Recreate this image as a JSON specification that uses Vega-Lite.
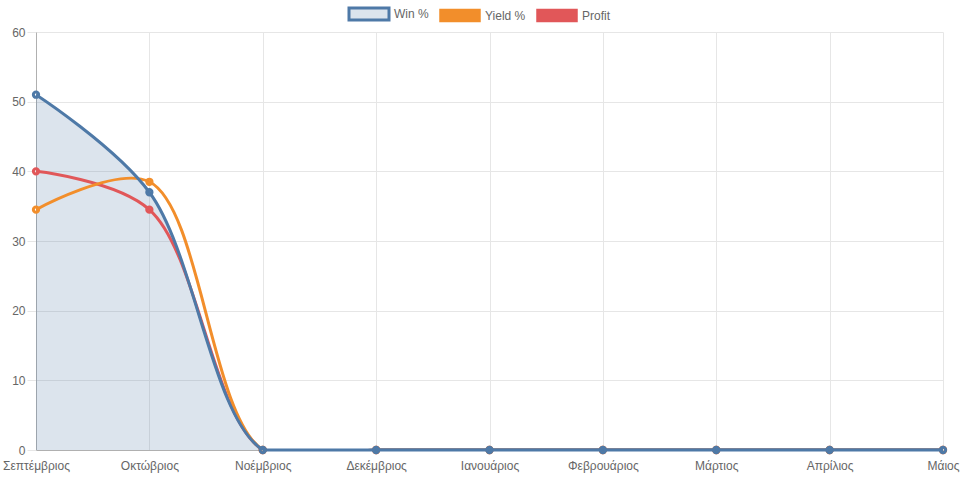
{
  "$schema": "https://vega.github.io/schema/vega-lite/v6.json",
  "width": 907,
  "height": 418,
  "autosize": {"type": "none"},
  "padding": {"left": 36, "top": 32, "right": 19, "bottom": 31},
  "background": "white",
  "config": {
    "view": {"stroke": null},
    "font": "Liberation Sans",
    "axis": {"labelFont": "Liberation Sans", "labelFontSize": 12, "labelColor": "#666666", "gridColor": "#e6e6e6", "gridWidth": 1, "tickColor": "#e6e6e6", "domainColor": "#b0b0b0", "title": null}
  },
  "data": {
    "values": [
      {"month": "Σεπτέμβριος", "series": "Win %", "value": 51},
      {"month": "Οκτώβριος", "series": "Win %", "value": 37},
      {"month": "Νοέμβριος", "series": "Win %", "value": 0},
      {"month": "Δεκέμβριος", "series": "Win %", "value": 0},
      {"month": "Ιανουάριος", "series": "Win %", "value": 0},
      {"month": "Φεβρουάριος", "series": "Win %", "value": 0},
      {"month": "Μάρτιος", "series": "Win %", "value": 0},
      {"month": "Απρίλιος", "series": "Win %", "value": 0},
      {"month": "Μάιος", "series": "Win %", "value": 0},
      {"month": "Σεπτέμβριος", "series": "Yield %", "value": 34.5},
      {"month": "Οκτώβριος", "series": "Yield %", "value": 38.5},
      {"month": "Νοέμβριος", "series": "Yield %", "value": 0},
      {"month": "Δεκέμβριος", "series": "Yield %", "value": 0},
      {"month": "Ιανουάριος", "series": "Yield %", "value": 0},
      {"month": "Φεβρουάριος", "series": "Yield %", "value": 0},
      {"month": "Μάρτιος", "series": "Yield %", "value": 0},
      {"month": "Απρίλιος", "series": "Yield %", "value": 0},
      {"month": "Μάιος", "series": "Yield %", "value": 0},
      {"month": "Σεπτέμβριος", "series": "Profit", "value": 40},
      {"month": "Οκτώβριος", "series": "Profit", "value": 34.5},
      {"month": "Νοέμβριος", "series": "Profit", "value": 0},
      {"month": "Δεκέμβριος", "series": "Profit", "value": 0},
      {"month": "Ιανουάριος", "series": "Profit", "value": 0},
      {"month": "Φεβρουάριος", "series": "Profit", "value": 0},
      {"month": "Μάρτιος", "series": "Profit", "value": 0},
      {"month": "Απρίλιος", "series": "Profit", "value": 0},
      {"month": "Μάιος", "series": "Profit", "value": 0}
    ]
  },
  "encoding": {
    "x": {
      "field": "month", "type": "ordinal",
      "sort": ["Σεπτέμβριος", "Οκτώβριος", "Νοέμβριος", "Δεκέμβριος", "Ιανουάριος", "Φεβρουάριος", "Μάρτιος", "Απρίλιος", "Μάιος"],
      "scale": {"type": "point", "padding": 0},
      "axis": {"labelAngle": 0, "tickSize": 0, "labelPadding": 10, "grid": true, "domain": true}
    },
    "y": {
      "field": "value", "type": "quantitative",
      "scale": {"domain": [0, 60], "nice": false},
      "axis": {"values": [0, 10, 20, 30, 40, 50, 60], "tickSize": 9, "labelPadding": 2, "grid": true}
    },
    "color": {
      "field": "series", "type": "nominal",
      "scale": {"domain": ["Win %", "Yield %", "Profit"], "range": ["#4e79a7", "#f28e2b", "#e15759"]},
      "legend": {
        "title": null, "orient": "none", "direction": "horizontal", "legendX": 327, "legendY": -24,
        "symbolType": "M-1,-0.3H1V0.3H-1Z", "symbolSize": 1600, "symbolStrokeWidth": 2,
        "labelFont": "Liberation Sans", "labelFontSize": 12, "labelColor": "#666666", "labelOffset": 19, "columnPadding": 8,
        "encode": {"symbols": {"update": {
          "fill": {"signal": "datum.value === 'Win %' ? '#dce4ed' : scale('color', datum.value)"},
          "stroke": {"scale": "color", "field": "value"},
          "strokeWidth": {"signal": "datum.value === 'Win %' ? 3 : 1.5"},
          "opacity": {"value": 1}
        }}}
      }
    }
  },
  "layer": [
    {
      "transform": [{"filter": "datum.series === 'Win %'"}],
      "mark": {"type": "area", "interpolate": "catmull-rom", "clip": true, "color": "#4e79a7", "opacity": 0.2},
      "encoding": {"color": {"value": "#4e79a7"}}
    },
    {
      "transform": [{"filter": "datum.series === 'Profit'"}],
      "mark": {"type": "line", "interpolate": "catmull-rom", "clip": true, "strokeWidth": 3}
    },
    {
      "transform": [{"filter": "datum.series === 'Profit'"}],
      "mark": {"type": "point", "filled": false, "size": 28, "strokeWidth": 3, "opacity": 1}
    },
    {
      "transform": [{"filter": "datum.series === 'Yield %'"}],
      "mark": {"type": "line", "interpolate": "catmull-rom", "clip": true, "strokeWidth": 3}
    },
    {
      "transform": [{"filter": "datum.series === 'Yield %'"}],
      "mark": {"type": "point", "filled": false, "size": 28, "strokeWidth": 3, "opacity": 1}
    },
    {
      "transform": [{"filter": "datum.series === 'Win %'"}],
      "mark": {"type": "line", "interpolate": "catmull-rom", "clip": true, "strokeWidth": 3}
    },
    {
      "transform": [{"filter": "datum.series === 'Win %' && datum.value === 0"}],
      "mark": {"type": "line", "strokeWidth": 3}
    },
    {
      "transform": [{"filter": "datum.series === 'Win %'"}],
      "mark": {"type": "point", "filled": false, "size": 28, "strokeWidth": 3, "opacity": 1}
    }
  ]
}
